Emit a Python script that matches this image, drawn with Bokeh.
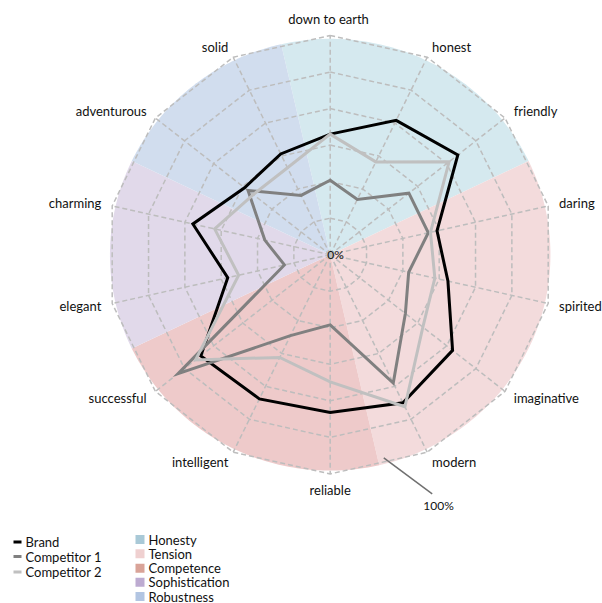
import numpy as np
from bokeh.plotting import figure
from bokeh.models import Range1d
from bokeh.core.properties import value
from bokeh.embed import file_html
from bokeh.resources import INLINE

# ---------------- data ----------------
categories = ["down  to earth", "honest", "friendly", "daring", "spirited", "imaginative",
              "modern", "reliable", "intelligent", "successful", "elegant", "charming",
              "adventurous", "solid"]
brand = [55, 68, 73, 49, 54, 70, 75, 72, 73, 74, 47, 63, 49, 51]
competitor1 = [34, 28, 45, 45, 36, 43, 65, 32, 41, 87, 21, 30, 47, 30]
competitor2 = [55, 47, 68, 46, 48, 53, 77, 58, 52, 77, 42, 53, 44, 44]
series_names = ["Brand", "Competitor 1", "Competitor 2"]
dimensions = ["Honesty", "Tension", "Competence", "Sophistication", "Robustness"]
dimension_sizes = [3, 4, 3, 2, 2]
ring_count = 6
scale_max = 100

# ---------------- styles ----------------
series_colors = ["#000000", "#808080", "#c0c0c0"]
dim_bg = ["#d5e9ef", "#f3dbdc", "#eecaca", "#e1d9ea", "#d1ddee"]
dim_swatch = ["#a9c9d7", "#efd0d0", "#d9a398", "#bdabd1", "#b2c5e2"]
FONT = "Lato"
grid_color = "#bdbdbd"
TXT = "#111111"

CX, CY, RX, RY = 329.7, 254.2, 223.6, 219.2
W, H = 602, 603
OFF = 0


def X(px):
    return (px - CX) / RX


def Y(py):
    return (CY - py) / RY


p = figure(width=W, height=H, output_backend="svg", toolbar_location=None,
           x_range=Range1d(X(OFF), X(OFF + W)), y_range=Range1d(Y(OFF + H), Y(OFF)),
           x_axis_type=None, y_axis_type=None, min_border=0,
           outline_line_color=None, background_fill_color="white")
p.grid.visible = False

n = len(categories)
theta = np.arange(n) * 2 * np.pi / n
half = np.pi / n

# background sectors
start = 0
r_bg = 0.985
for k, cnt in enumerate(dimension_sizes):
    a0 = theta[start] - half
    a1 = theta[start + cnt - 1] + half
    aa = np.linspace(a0, a1, 80)
    xs = [0] + list(r_bg * np.sin(aa))
    ys = [0] + list(r_bg * np.cos(aa))
    p.patch(xs, ys, fill_color=dim_bg[k], line_color=None)
    start += cnt

# rings
for k in range(1, ring_count + 1):
    r = k / ring_count
    xs = list(r * np.sin(theta)) + [0]
    ys = list(r * np.cos(theta)) + [r]
    xs[-1] = xs[0]
    p.line(xs, ys, line_color=grid_color, line_width=1.5, line_dash="5 3")

# spokes
for t in theta:
    p.line([0, np.sin(t)], [0, np.cos(t)], line_color=grid_color, line_width=1.5, line_dash="5 3")

# series
for vals, col in zip([brand, competitor1, competitor2], series_colors):
    r = np.array(vals) / scale_max
    p.patch(r * np.sin(theta), r * np.cos(theta), fill_color=None,
            line_color=col, line_width=3, line_join="miter")

# category labels
for t, lab in zip(theta, categories):
    s, c = np.sin(t), np.cos(t)
    if s > 0.1:
        align, rr = "left", 1.05
    elif s < -0.1:
        align, rr = "right", 1.05
    else:
        align, rr = "center", 1.075
    p.text([rr * s], [rr * c], text=[lab], text_align=align, text_baseline="middle",
           text_font=value(FONT), text_font_size="13px", text_color=TXT)

# 0% and 100% annotations
p.text([0], [0], text=["0%"], text_align="left", text_baseline="middle", x_offset=-3,
       text_font=value(FONT), text_font_size="12px", text_color=TXT)
p.line([X(383.3), X(431.7)], [Y(457.3), Y(493.3)], line_color="#707070", line_width=1.5)
p.text([X(438)], [Y(505)], text=["100%"], text_align="center", text_baseline="middle",
       text_font=value(FONT), text_font_size="12px", text_color=TXT)

# legend: series
leg_y = [541.5, 556, 571.5]
for name, col, yy in zip(series_names, series_colors, leg_y):
    p.line([X(13), X(21)], [Y(yy), Y(yy)], line_color=col, line_width=3)
    p.text([X(25)], [Y(yy)], text=[name], text_align="left", text_baseline="middle",
           text_font=value(FONT), text_font_size="13px", text_color=TXT)

# legend: dimensions
dim_y = [539, 553.3, 567.7, 581.7, 596]
for name, col, yy in zip(dimensions, dim_swatch, dim_y):
    p.rect([X(139.5)], [Y(yy)], width=9 / RX, height=9 / RY, fill_color=col, line_color=None)
    p.text([X(148)], [Y(yy)], text=[name], text_align="left", text_baseline="middle",
           text_font=value(FONT), text_font_size="13px", text_color=TXT)

open("out.html", "w").write(file_html(p, INLINE))
